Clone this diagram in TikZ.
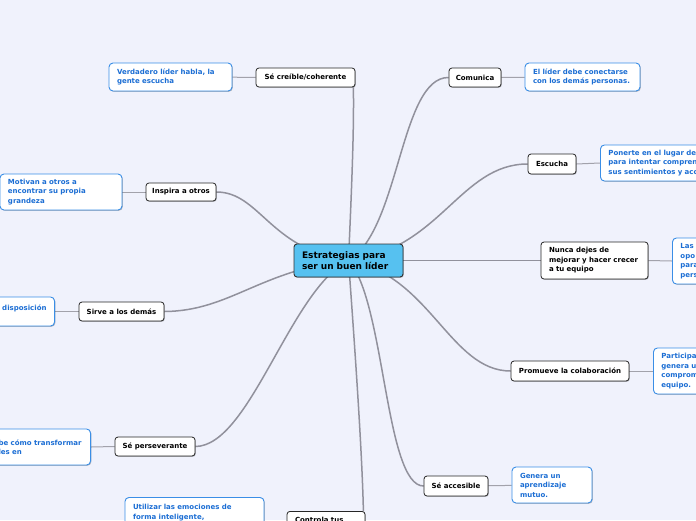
\documentclass[tikz,border=0pt]{standalone}
\usepackage{fontspec}
\newfontfamily\vf{DejaVu Sans}
\usetikzlibrary{shadows}
\definecolor{bgc}{RGB}{240,242,252}
\definecolor{ctr}{RGB}{86,193,240}
\definecolor{lfb}{RGB}{58,142,230}
\definecolor{lft}{RGB}{28,110,212}
\definecolor{cnx}{RGB}{145,145,156}
\pgfdeclarelayer{back}
\pgfdeclarelayer{bg}
\pgfsetlayers{back,bg,main}
\begin{document}
\begin{tikzpicture}[x=1pt,y=-1pt,
  every node/.style={inner sep=0pt},
  shad/.style={drop shadow={shadow xshift=0.8pt,shadow yshift=-0.8pt,fill=black,opacity=0.25}},
  ctrbox/.style={draw=black!80, fill=ctr, rounded corners=3pt, line width=0.9pt,
    font=\vf\bfseries\fontsize{9}{11.5}\selectfont, align=left, text width=93pt,
    inner xsep=8pt, minimum height=33pt, shad},
  subbox/.style={draw=black!85, fill=white, rounded corners=3pt, line width=0.8pt,
    font=\vf\bfseries\fontsize{7}{9.5}\selectfont, align=center, shad},
  leafbox/.style={draw=lfb, fill=white, text=lft, rounded corners=4pt, line width=0.9pt,
    font=\vf\bfseries\fontsize{7}{9.5}\selectfont, align=left, inner xsep=8pt, shad},
  link/.style={draw=cnx, line width=1.5pt},
  leaflink/.style={draw=cnx!85, line width=1pt}]
\useasboundingbox (0,0) rectangle (696,520);
\begin{pgfonlayer}{back}
\fill[bgc] (0,0) rectangle (696,520);
\end{pgfonlayer}
\clip (0,0) rectangle (696,520);

% central
\node[ctrbox] (c) at (348.5,260.5) {Estrategias para\\ser un buen líder};

% subtopics
\node[subbox, minimum width=99pt, minimum height=19pt] (s1) at (305.5,77.5) {Sé creíble/coherente};
\node[subbox, minimum width=70pt, minimum height=18pt] (s2) at (181,192) {Inspira a otros};
\node[subbox, minimum width=85pt, minimum height=19pt] (s3) at (121.5,311.5) {Sirve a los demás};
\node[subbox, minimum width=80pt, minimum height=19pt] (s4) at (155,446.5) {Sé perseverante};
\node[subbox, anchor=north, align=left, text width=62pt, inner xsep=8pt, inner ysep=6pt] (s5) at (326,511) {Controla tus};
\node[subbox, minimum width=52pt, minimum height=19pt] (s6) at (475,77.5) {Comunica};
\node[subbox, minimum width=48pt, minimum height=20pt] (s7) at (552,164) {Escucha};
\node[subbox, align=left, text width=91pt, inner xsep=8pt, minimum height=37pt] (s8) at (594.5,260.5) {Nunca dejes de\\mejorar y hacer crecer\\a tu equipo};
\node[subbox, minimum width=118pt, minimum height=20pt] (s9) at (570,371) {Promueve la colaboración};
\node[subbox, minimum width=64pt, minimum height=20pt] (s10) at (456,486) {Sé accesible};

% leaves
\node[leafbox, text width=107pt, minimum height=28pt] (l1) at (170.5,77) {Verdadero líder habla, la\\gente escucha};
\node[leafbox, text width=106pt, minimum height=36pt] (l2) at (61,192) {Motivan a otros a\\encontrar su propia\\grandeza};
\node[leafbox, anchor=east, text width=100pt, align=right, minimum height=29pt, text depth=8pt] (l3) at (55,311.5) {disposición};
\node[leafbox, anchor=east, text width=84pt, minimum height=36pt, text depth=9pt] (l4) at (91,447) {be cómo transformar\\les en};
\node[leafbox, anchor=north, text width=123pt, inner ysep=7pt] (l5) at (194.5,497) {Utilizar las emociones de\\forma inteligente,};
\node[leafbox, text width=99pt, minimum height=28pt] (l6) at (582.5,77) {El líder debe conectarse\\con los demás personas.};
\node[leafbox, anchor=west, text width=100pt, minimum height=36pt] (l7) at (600,163) {Ponerte en el lugar del\\para intentar compren\\sus sentimientos y acc};
\node[leafbox, anchor=west, text width=60pt, minimum height=46pt] (l8) at (672,261) {Las\\opo\\para\\pers};
\node[leafbox, anchor=west, text width=60pt, minimum height=46pt] (l9) at (653,371) {Participa\\genera u\\comprom\\equipo.};
\node[leafbox, text width=64pt, minimum height=36pt] (l10) at (552,485) {Genera un\\aprendizaje\\mutuo.};

\begin{pgfonlayer}{bg}
\draw[link] (c.center) .. controls (352,180) and (354,130) .. ([xshift=-2pt]s1.south east);
\draw[link] (c.center) .. controls (400,230) and (400,77) .. (s6.west);
\draw[link] (c.center) .. controls (440,250) and (460,164) .. (s7.west);
\draw[link] (c.center) -- (s8.west);
\draw[link] (c.center) .. controls (430,275) and (450,371) .. (s9.west);
\draw[link] (c.center) .. controls (385,300) and (385,486) .. (s10.west);
\draw[link] (c.center) .. controls (355,350) and (362,450) .. ([xshift=-2pt]s5.north east);
\draw[link] (c.center) .. controls (290,290) and (250,446) .. (s4.east);
\draw[link] (c.center) .. controls (260,270) and (230,311) .. (s3.east);
\draw[link] (c.center) .. controls (270,250) and (260,192) .. (s2.east);
\draw[leaflink] (s1) -- (l1);
\draw[leaflink] (s2) -- (l2);
\draw[leaflink] (s3.west) -- (l3.east);
\draw[leaflink] (s4.west) -- (l4.east);
\draw[leaflink] (s6) -- (l6);
\draw[leaflink] (s7.east) -- (l7.west);
\draw[leaflink] (s8.east) -- (l8.west);
\draw[leaflink] (s9.east) -- (l9.west);
\draw[leaflink] (s10) -- (l10);
\end{pgfonlayer}
\end{tikzpicture}
\end{document}
